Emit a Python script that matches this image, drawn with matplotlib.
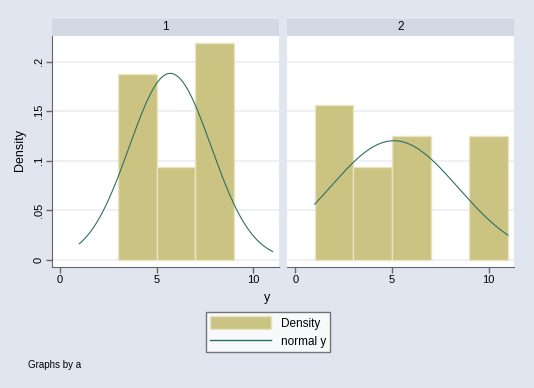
import numpy as np
import matplotlib.pyplot as plt
from matplotlib.patches import Patch
from matplotlib.lines import Line2D

# --- data ---
groups = ['1', '2']
bin_left = [1, 3, 5, 7, 9]
bin_width = 2
density_g1 = [0.0, 0.1875, 0.09375, 0.21875, 0.0]
density_g2 = [0.15625, 0.09375, 0.125, 0.0, 0.125]
norm_mean = [5.7, 5.1]
norm_sd = [2.12, 3.32]
curve_range = (1, 11)

densities = [density_g1, density_g2]

bg = '#e1e5f0'
strip_col = '#d1d7e3'
bar_col = '#cbc382'
bar_edge = '#e9e5c3'
line_col = '#2f6f62'
grid_col = '#eaedf4'
axis_col = '#666666'

plt.rcParams['font.family'] = ['Liberation Sans', 'DejaVu Sans']

fig = plt.figure(figsize=(5.34, 3.88), dpi=100, facecolor=bg)

lefts = [52 / 534, 287.3 / 534]
width = 227 / 534
bottom = 121.3 / 388
height = (266.7 - 36) / 388
strip_h = 17 / 388

for i, g in enumerate(groups):
    ax = fig.add_axes([lefts[i], bottom, width, height])
    ax.set_facecolor('white')
    x = [b for b, d in zip(bin_left, densities[i]) if d > 0]
    h = [d for d in densities[i] if d > 0]
    ax.bar(x, h, width=bin_width, align='edge', color=bar_col,
           edgecolor=bar_edge, linewidth=1, zorder=2)
    xs = np.linspace(curve_range[0], curve_range[1], 200)
    pdf = np.exp(-0.5 * ((xs - norm_mean[i]) / norm_sd[i]) ** 2) / (norm_sd[i] * np.sqrt(2 * np.pi))
    ax.plot(xs, pdf, color=line_col, linewidth=0.8, zorder=3)

    ax.set_xlim(-0.42, 11.33)
    ax.set_ylim(-0.00707, 0.2259)
    ax.set_yticks([0, 0.05, 0.1, 0.15, 0.2])
    ax.set_xticks([0, 5, 10])
    ax.set_xticklabels(['0', '5', '10'], fontsize=8)
    ax.yaxis.grid(True, color=grid_col, linewidth=1.2, zorder=0)
    ax.set_axisbelow(True)
    for s in ['top', 'right']:
        ax.spines[s].set_visible(False)
    ax.spines['bottom'].set_color(axis_col)
    ax.spines['left'].set_color(axis_col)
    ax.tick_params(axis='x', length=4, width=1, color=axis_col, pad=2)
    if i == 0:
        ax.set_yticklabels(['0', '.05', '.1', '.15', '.2'], fontsize=8,
                           rotation=90, va='center')
        ax.tick_params(axis='y', length=4, width=1, color=axis_col, pad=2)
    else:
        ax.spines['left'].set_visible(False)
        ax.tick_params(axis='y', length=0, labelleft=False)

    # strip title
    sax = fig.add_axes([lefts[i], bottom + height, width, strip_h])
    sax.set_facecolor(strip_col)
    sax.set_xticks([])
    sax.set_yticks([])
    for s in sax.spines.values():
        s.set_visible(False)
    sax.text(0.5, 0.5, g, ha='center', va='center', fontsize=8.5,
             transform=sax.transAxes)

fig.text(267 / 534, 1 - 298 / 388, 'y', ha='center', va='center', fontsize=9)
fig.text(20 / 534, 1 - 150 / 388, 'Density', ha='center', va='center',
         rotation=90, fontsize=9)
fig.text(28 / 534, 1 - 365 / 388, 'Graphs by a', ha='left', va='center',
         fontsize=7)

# legend
handles = [Patch(facecolor=bar_col, edgecolor=bar_edge),
           Line2D([0], [0], color=line_col, linewidth=1)]
leg = fig.legend(handles, ['Density', 'normal y'], loc='center',
                 bbox_to_anchor=(267.8 / 534, 1 - 332 / 388), fontsize=8.5,
                 handlelength=5.2, handleheight=1.3, frameon=True,
                 fancybox=False, borderpad=0.35, labelspacing=0.4,
                 handletextpad=0.8)
leg.get_frame().set_edgecolor('#555555')
leg.get_frame().set_linewidth(1)

fig.savefig('out.png', dpi=100, facecolor=bg)
